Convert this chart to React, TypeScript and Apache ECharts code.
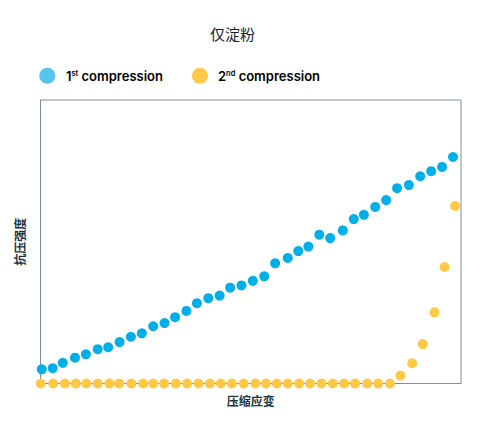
import { useEffect, useRef } from 'react';
import * as echarts from 'echarts';

// strain (0-100 on the hidden x scale) and strength (0-100 on the hidden y scale)
const firstStrain = [
  0.3, 2.9, 5.3, 8.2, 10.8, 13.6, 16.1, 18.8, 21.5, 24.1, 26.8, 29.5, 32.0, 34.7, 37.2, 39.9, 42.6, 45.1, 47.8,
  50.5, 53.2, 55.8, 58.8, 61.3, 63.7, 66.3, 68.9, 71.9, 74.5, 76.9, 79.6, 82.2, 84.8, 87.6, 90.3, 92.9, 95.5, 98.1,
];
const firstStrength = [
  5.0, 5.4, 7.3, 9.1, 10.3, 12.1, 12.8, 14.6, 16.5, 17.7, 20.2, 21.3, 23.4, 25.6, 28.3, 30.1, 31.0, 33.8, 34.6,
  36.2, 37.8, 42.4, 44.3, 46.7, 48.3, 52.5, 51.3, 54.0, 58.0, 59.5, 62.3, 64.7, 68.9, 70.0, 73.1, 74.9, 76.4, 79.9,
];
const secondStrain = [
  0.05, 3.0, 5.8, 8.4, 10.9, 13.6, 16.4, 18.7, 21.6, 24.4, 26.8, 29.4, 32.2, 34.9, 37.6, 40.3, 42.9, 45.5, 48.3,
  51.1, 53.6, 56.2, 58.8, 61.5, 64.1, 66.8, 69.5, 72.2, 74.8, 77.7, 80.3, 83.1, 85.6, 88.4, 90.9, 93.7, 96.1, 98.6,
];
const secondStrength = [
  0, 0, 0, 0, 0, 0, 0, 0, 0, 0, 0, 0, 0, 0, 0, 0, 0, 0, 0,
  0, 0, 0, 0, 0, 0, 0, 0, 0, 0, 0, 0, 0, 2.8, 7.1, 13.9, 25.1, 41.1, 62.6,
];
const seriesNames = ['1st compression', '2nd compression'];

const TEXT = '#1c3342';
const CJK = '"Noto Sans CJK SC", sans-serif';
const LATIN = 'Inter, sans-serif';

export default function App() {
  const chartRef = useRef<HTMLDivElement>(null);

  useEffect(() => {
    if (!chartRef.current) return;
    const chart = echarts.init(chartRef.current, null, { renderer: 'svg' });

    const legendRich = {
      n: { fontSize: 13, fontWeight: 600, color: TEXT, fontFamily: LATIN },
      s: { fontSize: 7.5, fontWeight: 600, color: TEXT, fontFamily: LATIN, verticalAlign: 'top' },
    };

    chart.setOption({
      animation: false,
      title: {
        text: '仅淀粉',
        left: 205,
        top: 21,
        textStyle: { fontFamily: CJK, fontSize: 15, fontWeight: 'normal', color: '#1a1a3c' },
      },
      grid: {
        left: 40.5,
        right: 34,
        top: 100,
        bottom: 51.5,
        show: true,
        borderColor: '#7d8f99',
        borderWidth: 1,
      },
      xAxis: {
        type: 'value',
        min: 0,
        max: 100,
        name: '压缩应变',
        nameLocation: 'middle',
        nameGap: 11,
        nameTextStyle: { fontFamily: CJK, fontSize: 12, fontWeight: 'bold', color: TEXT },
        axisLine: { show: true, lineStyle: { color: '#7d8f99' } },
        axisTick: { show: false },
        axisLabel: { show: false },
        splitLine: { show: false },
      },
      yAxis: {
        type: 'value',
        min: 0,
        max: 100,
        name: '抗压强度',
        nameLocation: 'middle',
        nameGap: 15,
        nameTextStyle: { fontFamily: CJK, fontSize: 12, fontWeight: 'bold', color: TEXT },
        axisLine: { show: true, lineStyle: { color: '#7d8f99' } },
        axisTick: { show: false },
        axisLabel: { show: false },
        splitLine: { show: false },
      },
      graphic: [
        { type: 'circle', shape: { cx: 47.3, cy: 75.7, r: 8 }, style: { fill: '#55c5f0' } },
        {
          type: 'text',
          x: 66,
          y: 76,
          style: {
            text: '{n|1}{s|st}{n| compression}',
            verticalAlign: 'middle',
            rich: legendRich,
          },
        },
        { type: 'circle', shape: { cx: 200, cy: 75.7, r: 8 }, style: { fill: '#ffc845' } },
        {
          type: 'text',
          x: 218,
          y: 76,
          style: {
            text: '{n|2}{s|nd}{n| compression}',
            verticalAlign: 'middle',
            rich: legendRich,
          },
        },
      ],
      series: [
        {
          name: seriesNames[0],
          type: 'scatter',
          symbolSize: 10,
          itemStyle: { color: '#00aee8', opacity: 1 },
          data: firstStrain.map((x, i) => [x, firstStrength[i]]),
        },
        {
          name: seriesNames[1],
          type: 'scatter',
          symbolSize: 10,
          itemStyle: { color: '#ffc845', opacity: 1 },
          data: secondStrain.map((x, i) => [x, secondStrength[i]]),
        },
      ],
    });

    return () => {
      chart.dispose();
    };
  }, []);

  return <div ref={chartRef} style={{ width: 495, height: 435, margin: -8 }} />;
}
